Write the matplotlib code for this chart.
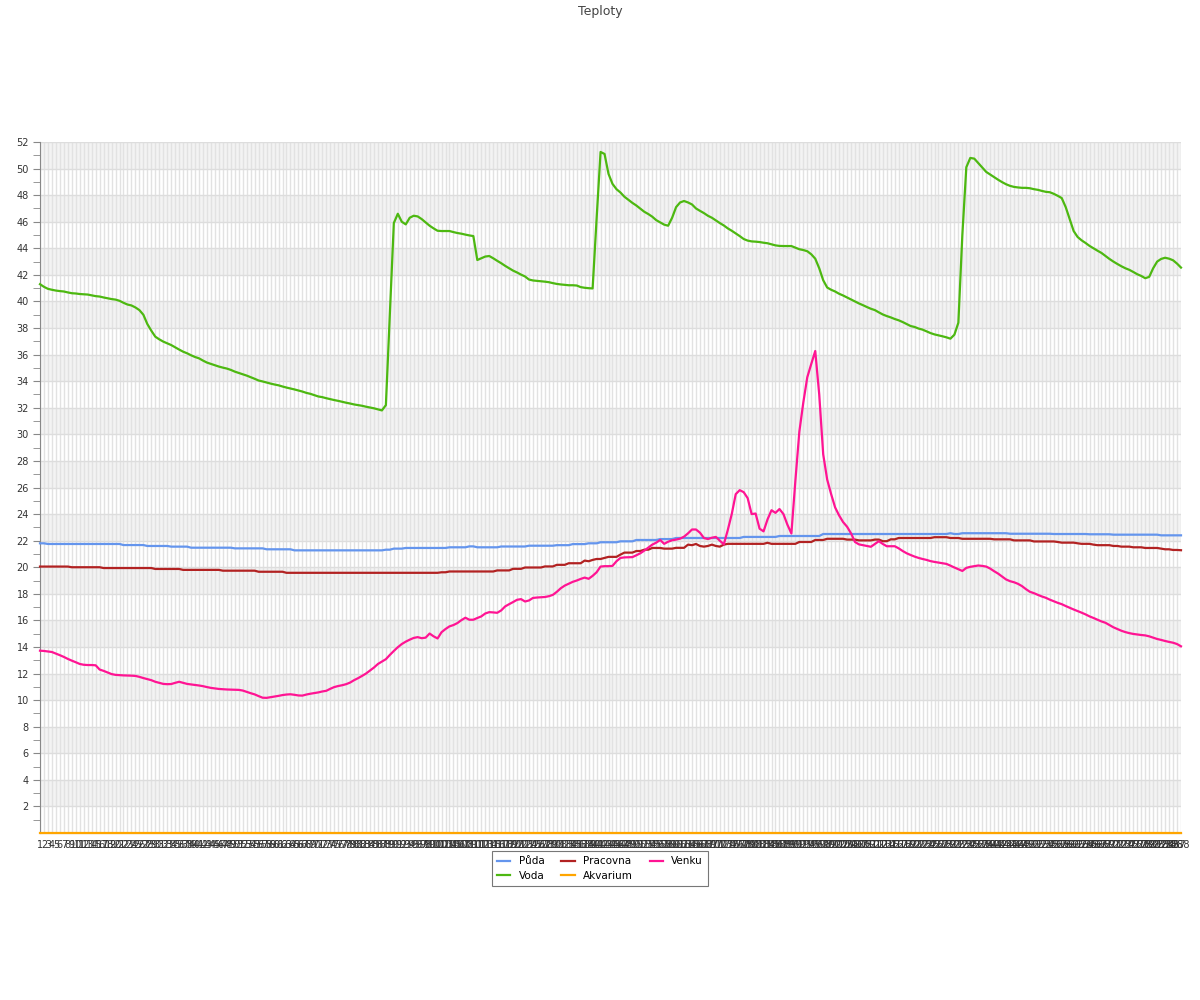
import matplotlib
matplotlib.use("Agg")
import matplotlib.pyplot as plt
import numpy as np

# popisky osy x: 288 mereni (1..288)
labels = [str(i) for i in range(1, 289)]

puda = [
    21.8, 21.8, 21.75, 21.75, 21.75, 21.75, 21.75, 21.75, 21.75, 21.75, 21.75, 21.75,
    21.75, 21.75, 21.75, 21.75, 21.75, 21.75, 21.75, 21.75, 21.75, 21.67, 21.67, 21.67,
    21.67, 21.67, 21.67, 21.6, 21.6, 21.6, 21.6, 21.6, 21.6, 21.55, 21.55, 21.55,
    21.55, 21.55, 21.47, 21.47, 21.47, 21.47, 21.47, 21.47, 21.47, 21.47, 21.47, 21.47,
    21.47, 21.42, 21.42, 21.42, 21.42, 21.42, 21.42, 21.42, 21.42, 21.35, 21.35, 21.35,
    21.35, 21.35, 21.35, 21.35, 21.27, 21.27, 21.27, 21.27, 21.27, 21.27, 21.27, 21.27,
    21.27, 21.27, 21.27, 21.27, 21.27, 21.27, 21.27, 21.27, 21.27, 21.27, 21.27, 21.27,
    21.27, 21.27, 21.27, 21.32, 21.32, 21.4, 21.4, 21.4, 21.45, 21.45, 21.45, 21.45,
    21.45, 21.45, 21.45, 21.45, 21.45, 21.45, 21.45, 21.5, 21.5, 21.5, 21.5, 21.5,
    21.57, 21.57, 21.5, 21.5, 21.5, 21.5, 21.5, 21.5, 21.56, 21.56, 21.56, 21.56,
    21.56, 21.56, 21.56, 21.62, 21.62, 21.62, 21.62, 21.62, 21.62, 21.62, 21.66, 21.66,
    21.66, 21.66, 21.74, 21.74, 21.74, 21.74, 21.8, 21.8, 21.8, 21.88, 21.88, 21.88,
    21.88, 21.88, 21.95, 21.95, 21.95, 21.95, 22.05, 22.05, 22.05, 22.05, 22.05, 22.05,
    22.12, 22.12, 22.12, 22.12, 22.2, 22.2, 22.2, 22.2, 22.2, 22.2, 22.2, 22.2,
    22.2, 22.2, 22.2, 22.2, 22.2, 22.2, 22.2, 22.2, 22.2, 22.28, 22.28, 22.28,
    22.28, 22.28, 22.28, 22.28, 22.28, 22.28, 22.35, 22.35, 22.35, 22.35, 22.35, 22.35,
    22.35, 22.35, 22.35, 22.35, 22.35, 22.5, 22.5, 22.5, 22.5, 22.5, 22.5, 22.5,
    22.5, 22.5, 22.5, 22.5, 22.5, 22.5, 22.5, 22.5, 22.5, 22.5, 22.5, 22.5,
    22.5, 22.5, 22.5, 22.5, 22.5, 22.5, 22.5, 22.5, 22.5, 22.5, 22.5, 22.5,
    22.5, 22.56, 22.5, 22.5, 22.56, 22.56, 22.56, 22.56, 22.56, 22.56, 22.56, 22.56,
    22.56, 22.56, 22.56, 22.56, 22.52, 22.52, 22.52, 22.52, 22.52, 22.52, 22.52, 22.52,
    22.52, 22.52, 22.52, 22.5, 22.5, 22.5, 22.5, 22.5, 22.5, 22.5, 22.5, 22.5,
    22.48, 22.48, 22.48, 22.48, 22.48, 22.48, 22.45, 22.45, 22.45, 22.45, 22.45, 22.45,
    22.45, 22.45, 22.45, 22.45, 22.45, 22.45, 22.4, 22.4, 22.4, 22.4, 22.4, 22.4,
]

voda = [
    41.3, 41.1, 40.95, 40.88, 40.82, 40.78, 40.75, 40.68, 40.62, 40.6, 40.56, 40.54,
    40.52, 40.46, 40.4, 40.37, 40.3, 40.24, 40.18, 40.14, 40.05, 39.9, 39.77, 39.7,
    39.55, 39.35, 39.0, 38.3, 37.8, 37.35, 37.15, 36.98, 36.85, 36.72, 36.55, 36.38,
    36.22, 36.1, 35.95, 35.82, 35.72, 35.55, 35.4, 35.3, 35.2, 35.1, 35.02, 34.95,
    34.85, 34.72, 34.62, 34.52, 34.42, 34.3, 34.18, 34.05, 33.98, 33.9, 33.82, 33.75,
    33.69, 33.6, 33.52, 33.45, 33.38, 33.3, 33.22, 33.12, 33.05, 32.95, 32.85, 32.8,
    32.72, 32.65, 32.58, 32.52, 32.45, 32.38, 32.32, 32.25, 32.2, 32.15, 32.08, 32.02,
    31.96, 31.88, 31.8, 32.2, 39.0, 45.9, 46.6, 46.0, 45.8, 46.3, 46.45, 46.4,
    46.2, 45.95, 45.7, 45.5, 45.32, 45.3, 45.3, 45.3, 45.22, 45.15, 45.1, 45.03,
    44.97, 44.92, 43.12, 43.25, 43.38, 43.42, 43.25, 43.06, 42.88, 42.68, 42.5, 42.32,
    42.18, 42.02, 41.88, 41.65, 41.58, 41.55, 41.52, 41.49, 41.45, 41.38, 41.32, 41.28,
    41.25, 41.22, 41.22, 41.2, 41.08, 41.03, 41.0, 40.98, 46.2, 51.25, 51.1, 49.6,
    48.85, 48.45, 48.2, 47.88, 47.65, 47.42, 47.22, 46.98, 46.75, 46.58, 46.38, 46.12,
    45.95, 45.78, 45.7, 46.3, 47.1, 47.45, 47.56, 47.45, 47.3, 47.0, 46.82, 46.65,
    46.45, 46.3, 46.1, 45.9, 45.72, 45.5, 45.32, 45.12, 44.92, 44.7, 44.58, 44.52,
    44.5, 44.47, 44.42, 44.38, 44.3, 44.22, 44.18, 44.17, 44.17, 44.17, 44.05, 43.93,
    43.87, 43.78, 43.55, 43.22, 42.5, 41.6, 41.05, 40.88, 40.75, 40.58, 40.45, 40.3,
    40.15, 40.0, 39.85, 39.72, 39.58, 39.45, 39.35, 39.18, 39.02, 38.9, 38.8, 38.68,
    38.58, 38.45, 38.3, 38.15, 38.08, 37.96, 37.88, 37.75, 37.62, 37.52, 37.45, 37.38,
    37.3, 37.2, 37.5, 38.4, 45.0, 50.1, 50.8, 50.75, 50.42, 50.1, 49.75, 49.55,
    49.35, 49.16, 48.98, 48.82, 48.7, 48.62, 48.58, 48.55, 48.55, 48.52, 48.45, 48.4,
    48.32, 48.25, 48.22, 48.1, 47.95, 47.78, 47.1, 46.2, 45.3, 44.85, 44.6, 44.4,
    44.18, 44.0, 43.82, 43.65, 43.42, 43.2, 43.0, 42.82, 42.65, 42.5, 42.38, 42.22,
    42.05, 41.92, 41.75, 41.85, 42.5, 43.0, 43.2, 43.29, 43.22, 43.1, 42.85, 42.55,
]

pracovna = [
    20.05, 20.05, 20.05, 20.05, 20.05, 20.05, 20.05, 20.05, 20.0, 20.0, 20.0, 20.0,
    20.0, 20.0, 20.0, 20.0, 19.94, 19.94, 19.94, 19.94, 19.94, 19.94, 19.94, 19.94,
    19.94, 19.94, 19.94, 19.94, 19.94, 19.87, 19.87, 19.87, 19.87, 19.87, 19.87, 19.87,
    19.8, 19.8, 19.8, 19.8, 19.8, 19.8, 19.8, 19.8, 19.8, 19.8, 19.74, 19.74,
    19.74, 19.74, 19.74, 19.74, 19.74, 19.74, 19.74, 19.66, 19.66, 19.66, 19.66, 19.66,
    19.66, 19.66, 19.58, 19.58, 19.58, 19.58, 19.58, 19.58, 19.58, 19.58, 19.58, 19.58,
    19.58, 19.58, 19.58, 19.58, 19.58, 19.58, 19.58, 19.58, 19.58, 19.58, 19.58, 19.58,
    19.58, 19.58, 19.58, 19.58, 19.58, 19.58, 19.58, 19.58, 19.58, 19.58, 19.58, 19.58,
    19.58, 19.58, 19.58, 19.58, 19.58, 19.62, 19.62, 19.68, 19.68, 19.68, 19.68, 19.68,
    19.68, 19.68, 19.68, 19.68, 19.68, 19.68, 19.68, 19.76, 19.76, 19.76, 19.76, 19.88,
    19.88, 19.88, 19.98, 19.98, 19.98, 19.98, 19.98, 20.06, 20.06, 20.06, 20.18, 20.18,
    20.18, 20.3, 20.3, 20.3, 20.3, 20.5, 20.45, 20.55, 20.62, 20.62, 20.7, 20.78,
    20.78, 20.78, 20.95, 21.1, 21.1, 21.1, 21.22, 21.22, 21.32, 21.32, 21.45, 21.45,
    21.45, 21.4, 21.4, 21.4, 21.46, 21.46, 21.46, 21.7, 21.66, 21.75, 21.6, 21.55,
    21.6, 21.7, 21.6, 21.55, 21.7, 21.76, 21.76, 21.76, 21.76, 21.76, 21.76, 21.76,
    21.76, 21.76, 21.76, 21.84, 21.76, 21.76, 21.76, 21.76, 21.76, 21.76, 21.76, 21.9,
    21.9, 21.9, 21.9, 22.05, 22.05, 22.05, 22.14, 22.14, 22.14, 22.14, 22.14, 22.08,
    22.08, 22.08, 22.02, 22.02, 22.02, 22.02, 22.08, 22.08, 21.96, 21.96, 22.1, 22.1,
    22.2, 22.2, 22.2, 22.2, 22.2, 22.2, 22.2, 22.2, 22.2, 22.26, 22.26, 22.26,
    22.26, 22.2, 22.2, 22.2, 22.14, 22.14, 22.14, 22.14, 22.14, 22.14, 22.14, 22.14,
    22.1, 22.1, 22.1, 22.1, 22.1, 22.02, 22.02, 22.02, 22.02, 22.02, 21.94, 21.94,
    21.94, 21.94, 21.94, 21.94, 21.9, 21.85, 21.85, 21.85, 21.85, 21.8, 21.76, 21.76,
    21.76, 21.7, 21.66, 21.66, 21.66, 21.66, 21.6, 21.6, 21.55, 21.55, 21.55, 21.5,
    21.5, 21.5, 21.45, 21.45, 21.45, 21.45, 21.4, 21.35, 21.35, 21.3, 21.3, 21.28,
]

akvarium = [0.0] * 288  # cidlo v akvariu po cely den ukazuje 0

venku = [
    13.72, 13.7, 13.66, 13.62, 13.5, 13.38, 13.25, 13.1, 12.97, 12.85, 12.72, 12.66,
    12.64, 12.64, 12.62, 12.3, 12.2, 12.08, 11.96, 11.9, 11.88, 11.86, 11.85, 11.84,
    11.82, 11.75, 11.66, 11.58, 11.5, 11.38, 11.3, 11.22, 11.2, 11.21, 11.3, 11.38,
    11.3, 11.22, 11.18, 11.14, 11.1, 11.05, 10.98, 10.92, 10.88, 10.84, 10.82, 10.8,
    10.79, 10.78, 10.77, 10.72, 10.62, 10.52, 10.43, 10.3, 10.18, 10.17, 10.22, 10.27,
    10.32, 10.38, 10.42, 10.44, 10.4, 10.35, 10.34, 10.42, 10.48, 10.53, 10.58, 10.65,
    10.7, 10.85, 10.98, 11.06, 11.12, 11.2, 11.32, 11.5, 11.65, 11.82, 12.0, 12.22,
    12.45, 12.72, 12.9, 13.08, 13.4, 13.7, 13.98, 14.22, 14.4, 14.55, 14.68, 14.74,
    14.66, 14.7, 15.01, 14.8, 14.64, 15.11, 15.35, 15.55, 15.65, 15.8, 16.02, 16.2,
    16.05, 16.05, 16.18, 16.3, 16.52, 16.62, 16.6, 16.57, 16.75, 17.05, 17.22, 17.38,
    17.55, 17.6, 17.42, 17.5, 17.69, 17.72, 17.74, 17.76, 17.82, 17.92, 18.15, 18.42,
    18.62, 18.76, 18.9, 19.0, 19.12, 19.22, 19.13, 19.35, 19.62, 20.05, 20.08, 20.08,
    20.1, 20.45, 20.7, 20.74, 20.75, 20.76, 20.9, 21.05, 21.25, 21.48, 21.7, 21.85,
    22.05, 21.76, 21.92, 22.03, 22.08, 22.15, 22.3, 22.55, 22.84, 22.84, 22.6, 22.2,
    22.12, 22.22, 22.28, 22.0, 21.72, 22.8, 24.0, 25.5, 25.8, 25.65, 25.2, 24.0,
    24.04, 22.9, 22.7, 23.6, 24.29, 24.09, 24.38, 24.0, 23.2, 22.54, 26.5, 30.2,
    32.4, 34.3, 35.3, 36.27, 33.0, 28.5, 26.6, 25.5, 24.5, 23.9, 23.4, 23.05,
    22.55, 21.9, 21.72, 21.66, 21.6, 21.54, 21.75, 21.96, 21.75, 21.58, 21.58, 21.58,
    21.42, 21.22, 21.05, 20.92, 20.8, 20.7, 20.62, 20.55, 20.46, 20.4, 20.35, 20.3,
    20.25, 20.12, 19.98, 19.85, 19.72, 19.95, 20.03, 20.08, 20.13, 20.1, 20.05, 19.9,
    19.7, 19.52, 19.3, 19.08, 18.95, 18.87, 18.75, 18.58, 18.35, 18.15, 18.05, 17.92,
    17.8, 17.7, 17.56, 17.44, 17.32, 17.22, 17.08, 16.95, 16.82, 16.7, 16.58, 16.45,
    16.3, 16.18, 16.05, 15.92, 15.82, 15.65, 15.48, 15.35, 15.22, 15.12, 15.04, 14.98,
    14.94, 14.9, 14.87, 14.8, 14.7, 14.6, 14.53, 14.45, 14.38, 14.32, 14.22, 14.05,
]

series = [
    ("Půda", puda, "#6495ed"),
    ("Voda", voda, "#4db811"),
    ("Pracovna", pracovna, "#b22222"),
    ("Akvarium", akvarium, "#ffa500"),
    ("Venku", venku, "#ff1493"),
]

fig = plt.figure(figsize=(12, 10), dpi=100)
ax = fig.add_axes([40 / 1200, 167 / 1000, 1141 / 1200, 691 / 1000])

x = np.arange(len(labels))

# sede pruhy pozadi
for lo in range(2, 52, 4):
    ax.axhspan(lo, lo + 2, color="#f3f3f3", lw=0, zorder=0)

for name, vals, col in series:
    ax.plot(x, vals, color=col, lw=1.6, label=name, zorder=3, clip_on=False)

ax.set_xlim(0, len(labels) - 1)
ax.set_ylim(0, 52)

ax.set_xticks(x)
ax.set_xticklabels(labels, fontsize=7, color="#333333")
ax.set_yticks(range(2, 53, 2))
ax.set_yticks(range(1, 52, 2), minor=True)
ax.tick_params(axis="y", which="both", length=5, color="#888888", labelsize=7,
               labelcolor="#333333", pad=3)
ax.tick_params(axis="x", length=0, pad=5)

ax.grid(axis="y", which="major", color="#dddddd", lw=1)
ax.grid(axis="x", color="#e2e2e2", lw=1)
ax.set_axisbelow(True)

for side in ("top", "right"):
    ax.spines[side].set_visible(False)
ax.spines["left"].set_color("#888888")
ax.spines["bottom"].set_color("#888888")

fig.text(0.5, 1 - 11 / 1000, "Teploty", ha="center", va="center",
         fontsize=9, color="#444444")

leg = fig.legend(loc="upper center", bbox_to_anchor=(0.5, 1 - 846 / 1000), ncol=3,
                 fontsize=7.5, frameon=True, fancybox=False, framealpha=1,
                 edgecolor="#777777", handlelength=1.3, columnspacing=1.6,
                 borderpad=0.5, labelspacing=0.4)
leg.get_frame().set_linewidth(0.8)

fig.savefig("out.png", dpi=100)
